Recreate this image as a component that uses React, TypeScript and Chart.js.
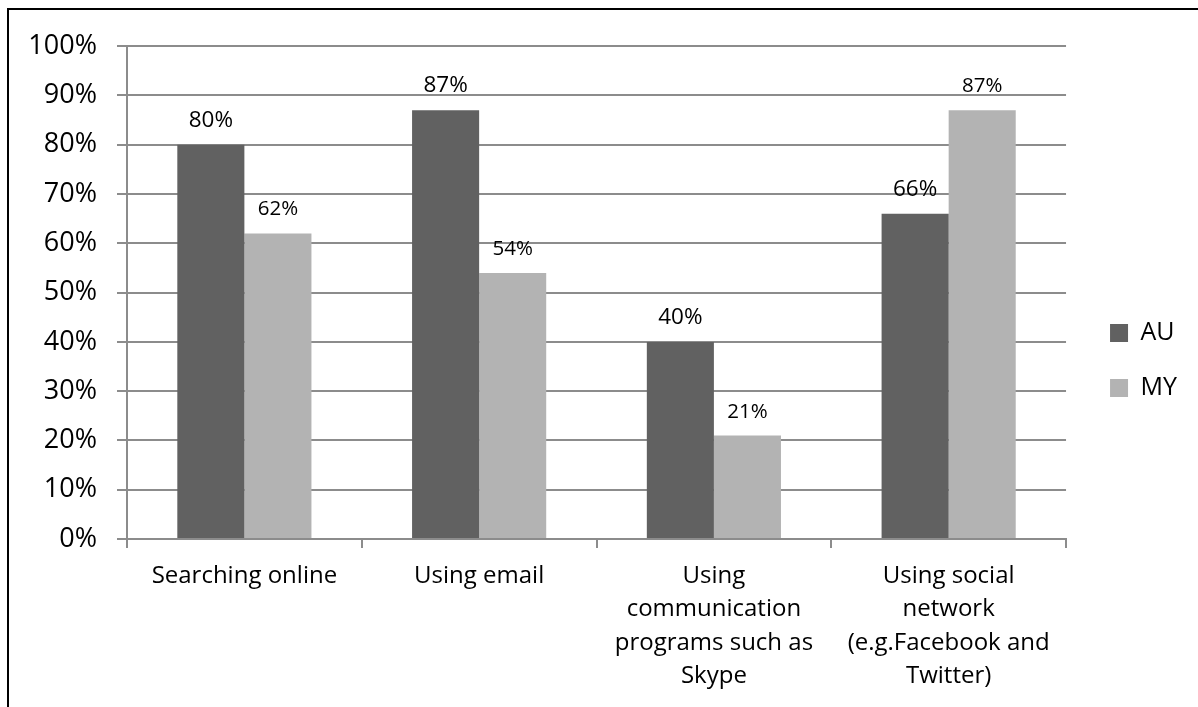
import React, { useEffect, useRef } from "react";
import { Chart, registerables } from "chart.js";

Chart.register(...registerables);

const categories: (string | string[])[] = [
  "Searching online",
  "Using email",
  ["Using", "communication", "programs such as", "Skype"],
  ["Using social", "network", "(e.g.Facebook and", "Twitter)"],
];
const seriesNames = ["AU", "MY"];
const auValues = [80, 87, 40, 66];
const myValues = [62, 54, 21, 87];
const yTickMin = 0;
const yTickMax = 100;
const yTickStep = 10;

const FONT = "'Open Sans', 'Noto Sans', sans-serif";
const GRID = "#8c8c8c";

const valueLabelPlugin = {
  id: "valueLabels",
  afterDatasetsDraw(chart: any) {
    const ctx = chart.ctx;
    ctx.save();
    ctx.fillStyle = "#000";
    ctx.textAlign = "center";
    ctx.textBaseline = "alphabetic";
    chart.data.datasets.forEach((ds: any, i: number) => {
      const meta = chart.getDatasetMeta(i);
      const size = i === 0 ? 22.5 : 20.5;
      ctx.font = `${size}px ${FONT}`;
      meta.data.forEach((bar: any, j: number) => {
        ctx.fillText(`${ds.data[j]}%`, bar.x, bar.y - 18);
      });
    });
    ctx.restore();
  },
};

export default function App() {
  const ref = useRef<HTMLCanvasElement>(null);
  useEffect(() => {
    if (!ref.current) return;
    const chart = new Chart(ref.current, {
      type: "bar",
      data: {
        labels: categories as any,
        datasets: [
          {
            label: seriesNames[0],
            data: auValues,
            backgroundColor: "#616161",
            borderWidth: 0,
            xAxisID: "x",
            yAxisID: "y",
          },
          {
            label: seriesNames[1],
            data: myValues,
            backgroundColor: "#b3b3b3",
            borderWidth: 0,
            xAxisID: "x",
            yAxisID: "y",
          },
        ],
      },
      options: {
        responsive: false,
        maintainAspectRatio: false,
        devicePixelRatio: 1,
        animation: false,
        datasets: {
          bar: { categoryPercentage: 0.5714, barPercentage: 1 },
        },
        layout: { padding: { top: 4, left: 0, right: 11, bottom: 0 } },
        plugins: {
          tooltip: { enabled: false },
          legend: {
            position: "right",
            align: "center",
            labels: {
              boxWidth: 18,
              boxHeight: 18,
              padding: 30,
              color: "#000",
              font: { family: FONT, size: 25 },
            },
          },
        },
        scales: {
          x: {
            grid: {
              drawOnChartArea: false,
              drawTicks: true,
              tickLength: 9,
              color: GRID,
              lineWidth: 2,
            },
            border: { display: true, color: GRID, width: 2 },
            ticks: {
              color: "#000",
              font: { family: FONT, size: 24, lineHeight: 1.4 },
              padding: 11,
              autoSkip: false,
              maxRotation: 0,
              minRotation: 0,
            },
            afterFit: (s: any) => {
              s.height = 168;
            },
          },
          xTopSpace: {
            type: "category",
            position: "top",
            display: true,
            grid: { display: false, drawTicks: false },
            border: { display: false },
            ticks: { display: false },
            afterFit: (s: any) => {
              s.height = 28;
            },
          },
          y: {
            min: yTickMin,
            max: yTickMax,
            grid: {
              color: GRID,
              lineWidth: 2,
              tickLength: 10,
              drawTicks: true,
            },
            border: { display: true, color: GRID, width: 2 },
            ticks: {
              stepSize: yTickStep,
              color: "#000",
              font: { family: FONT, size: 27 },
              padding: 20,
              callback: (v: any) => `${v}%`,
            },
            afterFit: (s: any) => {
              s.width = 118;
            },
          },
          yRightSpace: {
            type: "linear",
            position: "right",
            display: true,
            grid: { display: false, drawTicks: false },
            border: { display: false },
            ticks: { display: false },
            afterFit: (s: any) => {
              s.width = 14;
            },
          },
        },
      } as any,
      plugins: [valueLabelPlugin],
    });
    return () => chart.destroy();
  }, []);

  return (
    <div
      style={{
        position: "fixed",
        left: 7,
        top: 8,
        right: 0,
        bottom: 0,
        borderLeft: "2px solid #000",
        borderTop: "2px solid #000",
        background: "#fff",
        overflow: "hidden",
      }}
    >
      <canvas ref={ref} width={1189} height={697} style={{ display: "block" }} />
    </div>
  );
}
